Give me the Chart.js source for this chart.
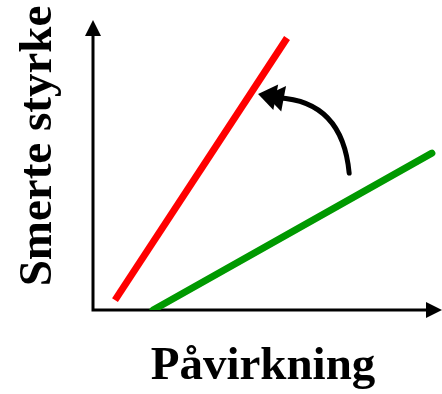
<!DOCTYPE html>
<html>
<head>
<meta charset="utf-8">
<script src="https://cdn.jsdelivr.net/npm/chart.js@4.4.1/dist/chart.umd.min.js"></script>
<style>
  body { margin: 0; background: #fff; }
  #wrap { width: 442px; height: 394px; }
</style>
</head>
<body>
<div id="wrap"><canvas id="chart" width="442" height="394"></canvas></div>
<script>
// values in chart units (x: 0..100, y: 0..100)
const redX = [6.3, 55.6];
const redY = [3.4, 93.8];
const greenX = [17.2, 97.1];
const greenY = [0, 54.1];
// curved arrow: start, control, end, tip
const arrowX = [73.4, 71.5, 53.0, 47.3];
const arrowY = [47.2, 72.0, 73.2, 74.5];

const xLabel = 'Påvirkning';
const yLabel = 'Smerte styrke';

function toPoints(xs, ys) {
    return xs.map((x, i) => ({ x: x, y: ys[i] }));
}

function arrowHead(ctx, tx, ty, angle, len, half) {
    ctx.beginPath();
    ctx.moveTo(tx, ty);
    ctx.lineTo(tx - len * Math.cos(angle) + half * Math.sin(angle), ty - len * Math.sin(angle) - half * Math.cos(angle));
    ctx.lineTo(tx - len * Math.cos(angle) - half * Math.sin(angle), ty - len * Math.sin(angle) + half * Math.cos(angle));
    ctx.closePath();
    ctx.fill();
}

const decorations = {
    id: 'decorations',
    beforeDatasetsDraw(chart) {
        const ctx = chart.ctx;
        const a = chart.chartArea;
        ctx.save();
        ctx.strokeStyle = '#000';
        ctx.fillStyle = '#000';
        ctx.lineWidth = 3;
        // axes
        ctx.beginPath();
        ctx.moveTo(a.left, a.top + 12);
        ctx.lineTo(a.left, a.bottom);
        ctx.lineTo(a.right - 12, a.bottom);
        ctx.stroke();
        arrowHead(ctx, a.left, a.top, -Math.PI / 2, 16, 8);
        arrowHead(ctx, a.right, a.bottom, 0, 16, 8);
        ctx.restore();
    },
    afterDatasetsDraw(chart) {
        const ctx = chart.ctx;
        const xs = chart.scales.x, ys = chart.scales.y;
        const p = arrowX.map((v, i) => [xs.getPixelForValue(v), ys.getPixelForValue(arrowY[i])]);
        ctx.save();
        ctx.strokeStyle = '#000';
        ctx.fillStyle = '#000';
        ctx.lineWidth = 5;
        ctx.lineCap = 'round';
        ctx.beginPath();
        ctx.moveTo(p[0][0], p[0][1]);
        ctx.quadraticCurveTo(p[1][0], p[1][1], p[2][0], p[2][1]);
        ctx.stroke();
        const ang = Math.atan2(p[3][1] - p[2][1], p[3][0] - p[2][0]);
        arrowHead(ctx, p[3][0], p[3][1], ang, 18, 13);
        arrowHead(ctx, p[3][0] - 8 * Math.cos(ang), p[3][1] - 8 * Math.sin(ang), ang, 18, 13);

        // axis titles
        ctx.font = 'bold 47px "Liberation Serif", "Times New Roman", serif';
        ctx.textAlign = 'center';
        ctx.textBaseline = 'alphabetic';
        ctx.fillText(xLabel, 263, 379);
        ctx.translate(51, 146);
        ctx.rotate(-Math.PI / 2);
        ctx.fillText(yLabel, 0, 0);
        ctx.restore();
    }
};

new Chart(document.getElementById('chart'), {
    type: 'scatter',
    data: {
        datasets: [
            {
                data: toPoints(redX, redY),
                showLine: true,
                borderColor: '#ff0000',
                borderWidth: 7,
                borderCapStyle: 'butt',
                pointRadius: 0
            },
            {
                data: toPoints(greenX, greenY),
                showLine: true,
                borderColor: '#009900',
                borderWidth: 7,
                borderCapStyle: 'round',
                pointRadius: 0
            }
        ]
    },
    options: {
        responsive: false,
        animation: false,
        layout: { padding: { left: 93, right: 0, top: 20, bottom: 84 } },
        scales: {
            x: { type: 'linear', min: 0, max: 100, display: false },
            y: { type: 'linear', min: 0, max: 100, display: false }
        },
        plugins: { legend: { display: false }, tooltip: { enabled: false } },
        elements: { line: { tension: 0 } }
    },
    plugins: [decorations]
});
</script>
</body>
</html>
